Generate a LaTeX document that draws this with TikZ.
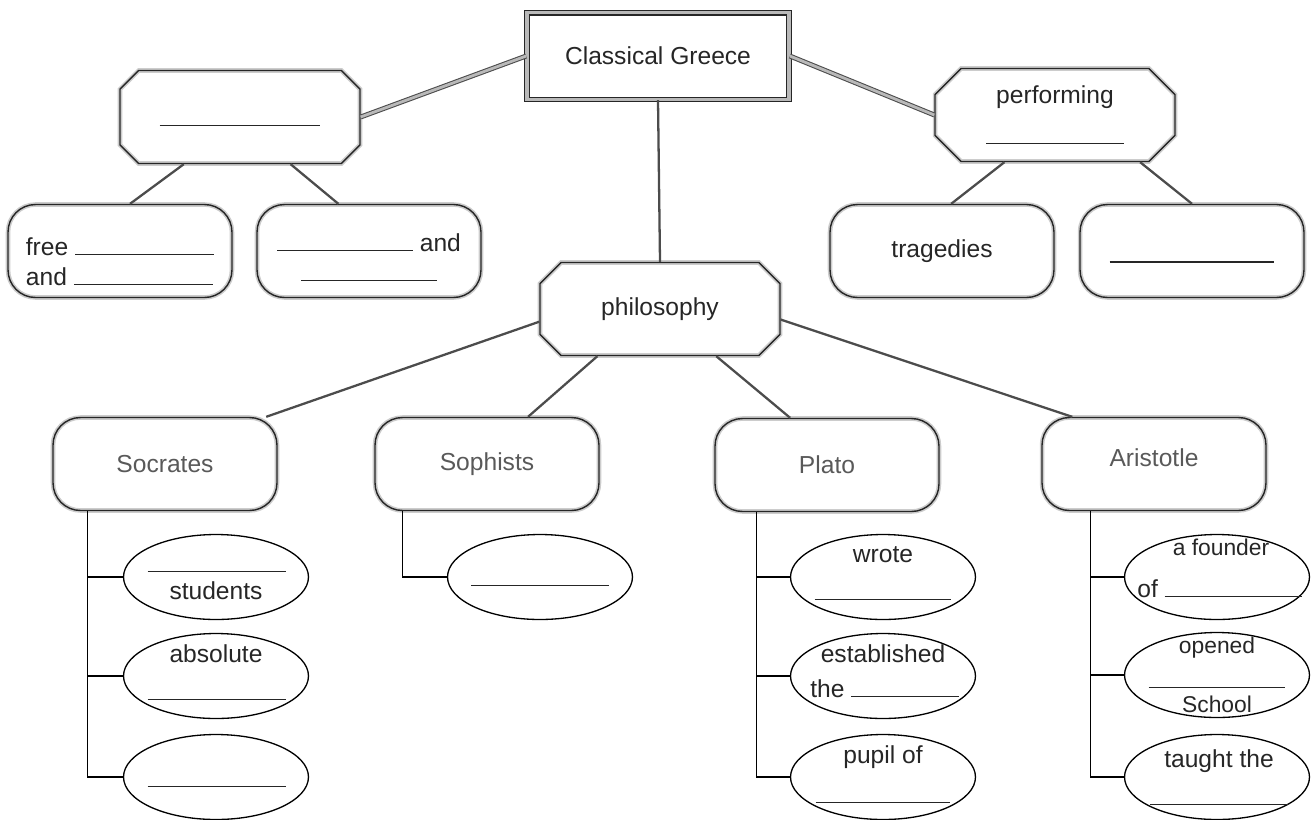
\documentclass[tikz,border=0pt]{standalone}
\usepackage{fontspec}
\setmainfont{Liberation Sans}
\usetikzlibrary{shapes.misc,shapes.geometric,positioning,calc}

\newcommand{\fillin}[1]{\rule{#1}{0.6pt}}

\begin{document}
\begin{tikzpicture}[x=0.02cm,y=-0.02cm,
    every node/.style={font=\fontsize{14}{17}\selectfont,text=black!85},
    topbox/.style={rectangle,draw=black!85,double=gray!55,double distance=2pt,line width=0.7pt,minimum width=5.25cm,minimum height=1.74cm},
    hexbox/.style={chamfered rectangle,chamfered rectangle xsep=0.4cm,draw=black!85,line width=0.8pt,preaction={draw=gray!40,line width=2.6pt},minimum width=4.8cm,minimum height=1.86cm,inner sep=2pt},
    roundbox/.style={rectangle,rounded corners=0.55cm,draw=black!85,line width=0.8pt,preaction={draw=gray!40,line width=2.6pt},minimum width=4.48cm,minimum height=1.86cm,inner sep=2pt},
    leaf/.style={ellipse,draw=black,line width=0.75pt,minimum width=3.7cm,minimum height=1.7cm,inner sep=0pt},
    word/.style={anchor=base,inner sep=0pt},
    small/.style={font=\fontsize{13}{15}\selectfont},
    biglink/.style={draw=black!70,double=gray!55,double distance=1.6pt,line width=0.6pt},
    link/.style={draw=black!70,line width=1.3pt},
    bar/.style={draw=black,line width=0.75pt}]

    \useasboundingbox (0,0) rectangle (1315,819);

    % top level
    \node[topbox] (greece) at (658,56) {Classical Greece};
    \node[hexbox] (lefthub) at (240,117) {\rule{0pt}{0.36cm}\fillin{3.22cm}};
    \node[hexbox,align=center] (perform) at (1055,115) {performing\\[6pt]\fillin{2.75cm}};
    \node[hexbox] (philo) at (660,309) {philosophy};

    % second row
    \node[roundbox,align=left] (free) at (120,251) {\rule{0pt}{22pt}free \fillin{2.78cm}\\and \fillin{2.78cm}};
    \node[roundbox,align=center] (andbox) at (369,251) {\rule{0pt}{17pt}\fillin{2.72cm} and\\\fillin{2.72cm}};
    \node[roundbox] (trag) at (942,251) {tragedies};
    \node[roundbox] (perfblank) at (1192,251) {\rule{0pt}{0.46cm}\fillin{3.3cm}};

    % philosophers
    \node[roundbox,text=black!65] (soc) at (165,464) {Socrates};
    \node[roundbox,text=black!65] (soph) at (487,464) {Sophists};
    \node[roundbox,text=black!65] (plato) at (827,465) {Plato};
    \node[roundbox,text=black!65] (arist) at (1154,464) {Aristotle\rule[-7pt]{0pt}{0pt}};

    % ellipses
    \node[leaf] (soc1) at (216,577) {};
    \node[leaf] (soc2) at (216,676) {};
    \node[leaf] (soc3) at (216,777) {};
    \node[leaf] (soph1) at (540,577) {};
    \node[leaf] (plato1) at (883,577) {};
    \node[leaf] (plato2) at (883,676) {};
    \node[leaf] (plato3) at (883,777) {};
    \node[leaf] (arist1) at (1217,577) {};
    \node[leaf] (arist2) at (1217,675) {};
    \node[leaf] (arist3) at (1217,777) {};

    % words in the ellipses
    \node[word] (soc1a) at ($(soc1)+(1,-5)$) {\fillin{2.78cm}};
    \node[word] (soc1b) at ($(soc1)+(0,22)$) {students};
    \node[word] (soc2a) at ($(soc2)+(0,-14)$) {absolute};
    \node[word] (soc2b) at ($(soc2)+(1,24)$) {\fillin{2.78cm}};
    \node[word] (soc3a) at ($(soc3)+(1,10)$) {\fillin{2.78cm}};
    \node[word] (soph1a) at ($(soph1)+(0,9)$) {\fillin{2.76cm}};
    \node[word] (plato1a) at ($(plato1)+(0,-15)$) {wrote};
    \node[word] (plato1b) at ($(plato1)+(0,23)$) {\fillin{2.74cm}};
    \node[word] (plato2a) at ($(plato2)+(0,-14)$) {established};
    \node[word,anchor=base west] (plato2b) at ($(plato2)+(-73,21)$) {the \fillin{2.16cm}};
    \node[word] (plato3a) at ($(plato3)+(0,-14)$) {pupil of};
    \node[word] (plato3b) at ($(plato3)+(0,26)$) {\fillin{2.7cm}};
    \node[word,small] (arist1a) at ($(arist1)+(4,-22)$) {a founder};
    \node[word,anchor=base west] (arist1b) at ($(arist1)+(-80,20)$) {of \fillin{2.74cm}};
    \node[word,small] (arist2a) at ($(arist2)+(0,-22)$) {opened};
    \node[word] (arist2b) at ($(arist2)+(0,13)$) {\fillin{2.74cm}};
    \node[word,small] (arist2c) at ($(arist2)+(0,37)$) {School};
    \node[word] (arist3a) at ($(arist3)+(2,-10)$) {taught the};
    \node[word] (arist3b) at ($(arist3)+(2,28)$) {\fillin{2.76cm}};

    \draw[biglink] (greece.west) -- (lefthub.east);
    \draw[biglink] (greece.east) -- (perform.west);

    \path[link]
        (greece.south) edge (philo.north)
        (lefthub.220) edge (free.78)
        (lefthub.317) edge (andbox.123)
        (perform.223) edge (trag.79)
        (perform.331) edge (perfblank.north)
        (philo.186) edge (soc.25)
        (philo.217) edge (soph.49)
        (philo.320) edge (plato.128)
        (philo.355) edge (arist.150);

    % brackets down to the ellipses
    \coordinate (socbar) at ($(soc.south west)+(35,0)$);
    \coordinate (sophbar) at ($(soph.south west)+(28,0)$);
    \coordinate (platobar) at ($(plato.south west)+(42,0)$);
    \coordinate (aristbar) at ($(arist.south west)+(49,0)$);

    \draw[bar] (socbar) |- (soc3.west);
    \draw[bar] (sophbar) |- (soph1.west);
    \draw[bar] (platobar) |- (plato3.west);
    \draw[bar] (aristbar) |- (arist3.west);
    \foreach \i in {1,2} {
        \draw[bar] (soc\i.west) -- (soc\i.west -| socbar);
        \draw[bar] (plato\i.west) -- (plato\i.west -| platobar);
        \draw[bar] (arist\i.west) -- (arist\i.west -| aristbar);
    }
\end{tikzpicture}
\end{document}
